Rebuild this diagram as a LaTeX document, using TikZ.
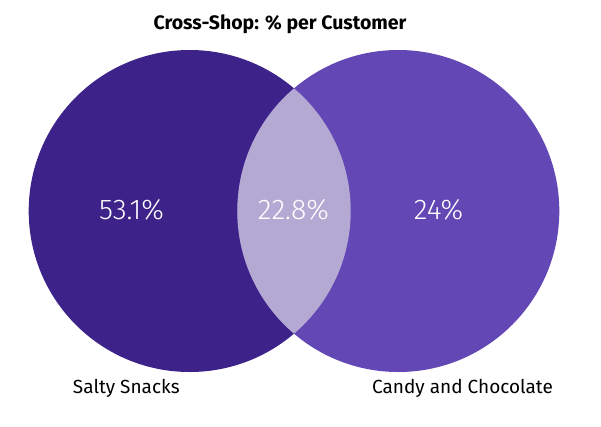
\documentclass[tikz,border=0pt]{standalone}
\usepackage{fontspec}
\setmainfont{Fira Sans}
\newfontfamily\lightfont{Fira Sans Light}
\definecolor{leftc}{RGB}{61,35,137}
\definecolor{rightc}{RGB}{99,71,181}
\definecolor{lensc}{RGB}{179,169,210}
\tikzset{
  setcircle/.style={circle, inner sep=0pt, minimum size=322pt},
  valtext/.style={anchor=base, text=white, font=\lightfont\fontsize{28.5}{32}\selectfont},
  labtext/.style={anchor=base, text=black, font=\fontsize{19}{22}\selectfont},
  titletext/.style={anchor=base, text=black, font=\bfseries\fontsize{19.5}{22}\selectfont}
}
\begin{document}
\begin{tikzpicture}[x=1pt,y=-1pt]
\useasboundingbox (0,0) rectangle (601,426);
\node[setcircle, fill=leftc] (salty) at (189.7,211) {};
\node[setcircle, fill=rightc] (candy) at (398.3,211) {};
\begin{scope}
  \clip (189.7,211) circle (161pt);
  \fill[lensc] (398.3,211) circle (161pt);
\end{scope}
\node[titletext] (title) at (280,29) {Cross-Shop: \% per Customer};
\node[valtext] (v1) at (131.6,219.3) {53.1\%};
\node[valtext] (v2) at (293.5,219.3) {22.8\%};
\node[valtext] (v3) at (438.5,219.3) {24\%};
\node[labtext] (l1) at (126.3,393) {Salty Snacks};
\node[labtext] (l2) at (462.5,393) {Candy and Chocolate};
\end{tikzpicture}
\end{document}
